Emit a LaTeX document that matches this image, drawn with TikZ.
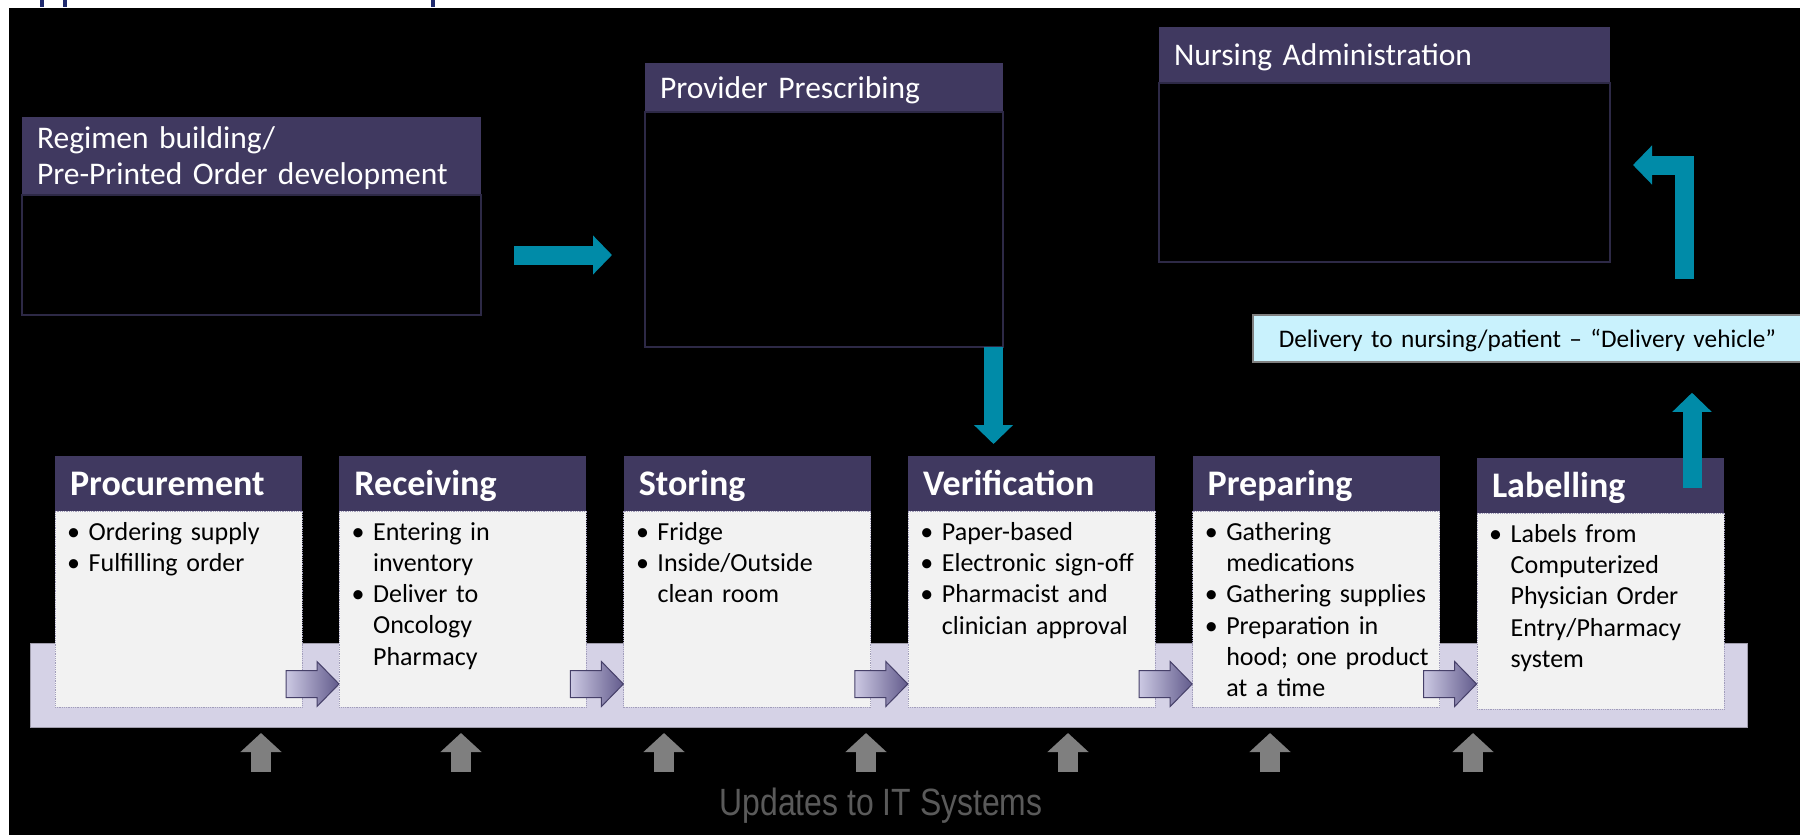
\documentclass[tikz,border=0pt]{standalone}
\usepackage{fontspec}
\setmainfont{Carlito}
\newfontfamily\arialfont{Liberation Sans}
\usetikzlibrary{positioning,arrows.meta,calc}

\definecolor{hdpurple}{RGB}{64,57,96}
\definecolor{bodygray}{RGB}{242,242,242}
\definecolor{bandlav}{RGB}{213,210,230}
\definecolor{tealarr}{RGB}{0,139,168}
\definecolor{delivcyan}{RGB}{201,242,253}
\definecolor{chevlight}{RGB}{204,201,227}
\definecolor{chevdark}{RGB}{98,91,140}
\definecolor{chevline}{RGB}{70,64,105}
\definecolor{itgray}{RGB}{127,127,127}
\definecolor{ittext}{RGB}{90,90,90}
\definecolor{topline}{RGB}{45,41,70}
\definecolor{titlenavy}{RGB}{31,42,110}

\newcommand{\bitem}{\makebox[21.5pt][l]{\textbullet}}
\newcommand{\bcont}{\hspace*{21.5pt}}

\tikzset{
  tophead/.style={fill=hdpurple, text=white, anchor=north west, inner xsep=15pt, inner ysep=0pt, outer sep=0pt, align=left, font=\fontsize{31.5}{36}\selectfont, text height=21pt, text depth=0pt},
  topbody/.style={fill=black, draw=topline, line width=1.5pt, inner sep=0pt, outer sep=0pt},
  stephead/.style={fill=hdpurple, text=white, anchor=north west, minimum width=247pt, minimum height=55pt, inner xsep=15pt, inner ysep=0pt, outer sep=0pt, text width=217pt, align=left, font=\bfseries\fontsize{36}{42}\selectfont, text height=23pt, text depth=0pt},
  stepbody/.style={fill=bodygray, draw=chevdark!60, densely dotted, line width=0.8pt, minimum width=247pt, minimum height=196pt, inner sep=0pt, outer sep=0pt},
  bullets/.style={anchor=north west, text width=240pt, align=left, inner xsep=12pt, inner ysep=11pt, font=\fontsize{26}{31.3}\selectfont},
  deliv/.style={fill=delivcyan, draw=gray, line width=1.5pt, anchor=west, inner xsep=26pt, inner ysep=0pt, text width=540pt, align=left, minimum height=47pt, text height=17pt, text depth=0pt, font=\fontsize{25.3}{31}\selectfont},
  tealarrow/.style={draw=tealarr, line width=19pt, -{Triangle[length=19pt,width=38pt]}},
  itarrow/.style={draw=itgray, line width=20pt, -{Triangle[length=19pt,width=40pt]}},
  chev/.style={left color=chevlight, right color=chevdark, draw=chevline, line width=1pt, line join=miter}
}

\begin{document}
\begin{tikzpicture}[x=1pt,y=-1pt]
\useasboundingbox (0,0) rectangle (1800,835);
% Background
\fill[white] (0,0) rectangle (1800,835);
\fill[black] (9,7.5) rectangle (1800,835);
\fill[titlenavy] (40,0) rectangle (44,7);
\fill[titlenavy] (63,0) rectangle (67,7);
\fill[titlenavy] (431,0) rectangle (435,7);

% Top boxes
\node[tophead, text width=429pt, minimum height=78pt, text depth=36pt] (regh) at (22,117) {Regimen building/\\Pre-Printed Order development};
\node[topbody, minimum width=459pt, minimum height=120pt, below=0pt of regh] (regb) {};

\node[tophead, text width=328pt, minimum height=49pt] (provh) at (645,63) {Provider Prescribing};
\node[topbody, minimum width=358pt, minimum height=235pt, below=0pt of provh] (provb) {};

\node[tophead, text width=421pt, minimum height=56pt] (nursh) at (1159,27) {Nursing Administration};
\node[topbody, minimum width=451pt, minimum height=179pt, below=0pt of nursh] (nursb) {};

% Delivery
\node[deliv] (deliv) at (1252,338.5) {Delivery to nursing/patient – “Delivery vehicle”};

% Band behind the steps
\draw[fill=bandlav, draw=bandlav!75!black] (30,643) rectangle (1747,727);

% Steps
\node[stephead] (proch) at (55,456) {Procurement};
\node[stepbody, below=0pt of proch] (procb) {};
\node[bullets] (proct) at (procb.north west) {\bitem Ordering supply\\\bitem Fulfilling order};

\node[stephead] (rech) at (339.4,456) {Receiving};
\node[stepbody, below=0pt of rech] (recb) {};
\node[bullets] (rect) at (recb.north west) {\bitem Entering in\\\bcont inventory\\\bitem Deliver to\\\bcont Oncology\\\bcont Pharmacy};

\node[stephead] (stoh) at (623.8,456) {Storing};
\node[stepbody, below=0pt of stoh] (stob) {};
\node[bullets] (stot) at (stob.north west) {\bitem Fridge\\\bitem Inside/Outside\\\bcont clean room};

\node[stephead] (verh) at (908.2,456) {Verification};
\node[stepbody, below=0pt of verh] (verb) {};
\node[bullets] (vert) at (verb.north west) {\bitem Paper-based\\\bitem Electronic sign-off\\\bitem Pharmacist and\\\bcont clinician approval};

\node[stephead] (preph) at (1192.6,456) {Preparing};
\node[stepbody, below=0pt of preph] (prepb) {};
\node[bullets] (prept) at (prepb.north west) {\bitem Gathering\\\bcont medications\\\bitem Gathering supplies\\\bitem Preparation in\\\bcont hood; one product\\\bcont at a time};

\node[stephead] (labh) at (1477,458) {Labelling};
\node[stepbody, below=0pt of labh] (labb) {};
\node[bullets] (labt) at (labb.north west) {\bitem Labels from\\\bcont Computerized\\\bcont Physician Order\\\bcont Entry/Pharmacy\\\bcont system};

% Chevrons between steps
\draw[chev] ($(procb.south east)+(-16,-36.5)$) -- ++(31,0) -- ++(0,-9) -- ++(22,22.5) -- ++(-22,22.5) -- ++(0,-9) -- ++(-31,0) -- cycle;
\draw[chev] ($(recb.south east)+(-16,-36.5)$) -- ++(31,0) -- ++(0,-9) -- ++(22,22.5) -- ++(-22,22.5) -- ++(0,-9) -- ++(-31,0) -- cycle;
\draw[chev] ($(stob.south east)+(-16,-36.5)$) -- ++(31,0) -- ++(0,-9) -- ++(22,22.5) -- ++(-22,22.5) -- ++(0,-9) -- ++(-31,0) -- cycle;
\draw[chev] ($(verb.south east)+(-16,-36.5)$) -- ++(31,0) -- ++(0,-9) -- ++(22,22.5) -- ++(-22,22.5) -- ++(0,-9) -- ++(-31,0) -- cycle;
\draw[chev] ($(prepb.south east)+(-16,-36.5)$) -- ++(31,0) -- ++(0,-9) -- ++(22,22.5) -- ++(-22,22.5) -- ++(0,-9) -- ++(-31,0) -- cycle;

% Teal flow arrows
\draw[tealarrow] ([xshift=33pt]regb.east) -- ([xshift=-33pt]provb.west |- regb.east);
\draw[tealarrow] ([xshift=-9.5pt]provb.south east) -- ([xshift=-9.5pt,yshift=12pt]provb.south east |- verh.north);
\draw[tealarrow] ([xshift=-32pt,yshift=-30pt]labh.north east) -- ([xshift=-32pt,yshift=-30pt]labh.north east |- deliv.south);
\coordinate (elbow) at (1684,279);
\draw[tealarrow, line join=miter] (elbow) |- ([xshift=23pt,yshift=7.5pt]nursb.east);

% IT updates
\draw[itarrow] (261,772) -- (261,733);
\draw[itarrow] (461,772) -- (461,733);
\draw[itarrow] (664,772) -- (664,733);
\draw[itarrow] (866,772) -- (866,733);
\draw[itarrow] (1068,772) -- (1068,733);
\draw[itarrow] (1270,772) -- (1270,733);
\draw[itarrow] (1473,772) -- (1473,733);
\node[font=\arialfont\fontsize{38}{44}\selectfont, text=ittext, anchor=base] (upd) at (881,815) {\scalebox{0.84}[1]{Updates to IT Systems}};
\end{tikzpicture}
\end{document}
